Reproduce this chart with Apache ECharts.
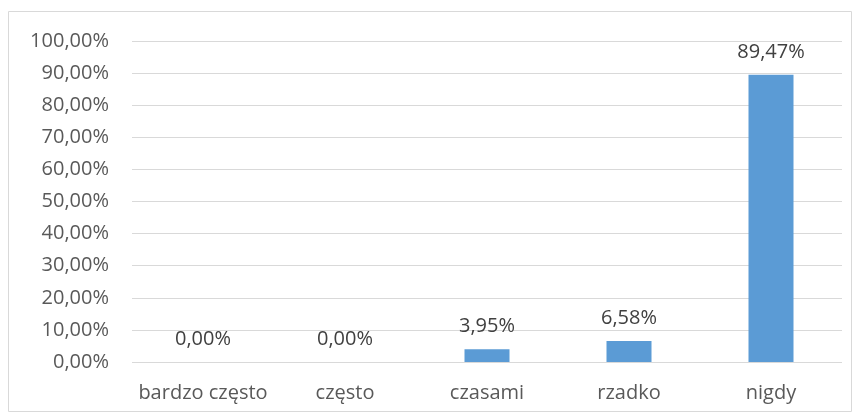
<!DOCTYPE html>
<html>
<head>
<meta charset="utf-8">
<script src="https://cdn.jsdelivr.net/npm/echarts@6/dist/echarts.min.js"></script>
<style>
html, body { margin: 0; padding: 0; background: #ffffff; }
#chart { width: 860px; height: 416px; }
</style>
</head>
<body>
<div id="chart"></div>
<script>
// dane z wykresu
const categories = ['bardzo często', 'często', 'czasami', 'rzadko', 'nigdy']
const values = [0, 0, 3.95, 6.58, 89.47]
const yTicks = [0, 10, 20, 30, 40, 50, 60, 70, 80, 90, 100]

const fmt = v => v.toFixed(2).replace('.', ',') + '%'

var myChart = echarts.init(document.getElementById('chart'))
myChart.setOption({
  animation: false,
  textStyle: { fontFamily: 'Open Sans' },
  graphic: [{
    type: 'rect',
    shape: { x: 8.5, y: 11.5, width: 843, height: 400 },
    style: { fill: 'none', stroke: '#d9d9d9', lineWidth: 1 }
  }],
  grid: { left: 132, right: 18, top: 41, bottom: 54 },
  xAxis: {
    type: 'category',
    data: categories,
    axisLine: { show: false },
    axisTick: { show: false },
    axisLabel: { color: '#595959', fontSize: 20, margin: 21, interval: 0 }
  },
  yAxis: {
    type: 'value',
    min: yTicks[0],
    max: yTicks[yTicks.length - 1],
    interval: 10,
    axisLabel: { color: '#595959', fontSize: 20, margin: 23, formatter: v => fmt(v) },
    splitLine: { lineStyle: { color: '#d9d9d9', width: 1 } }
  },
  series: [{
    type: 'bar',
    data: values,
    barWidth: 45,
    itemStyle: { color: '#5b9bd5' },
    label: {
      show: true,
      position: 'top',
      distance: 13,
      color: '#404040',
      fontSize: 20,
      formatter: p => fmt(p.value)
    }
  }]
})
</script>
</body>
</html>
